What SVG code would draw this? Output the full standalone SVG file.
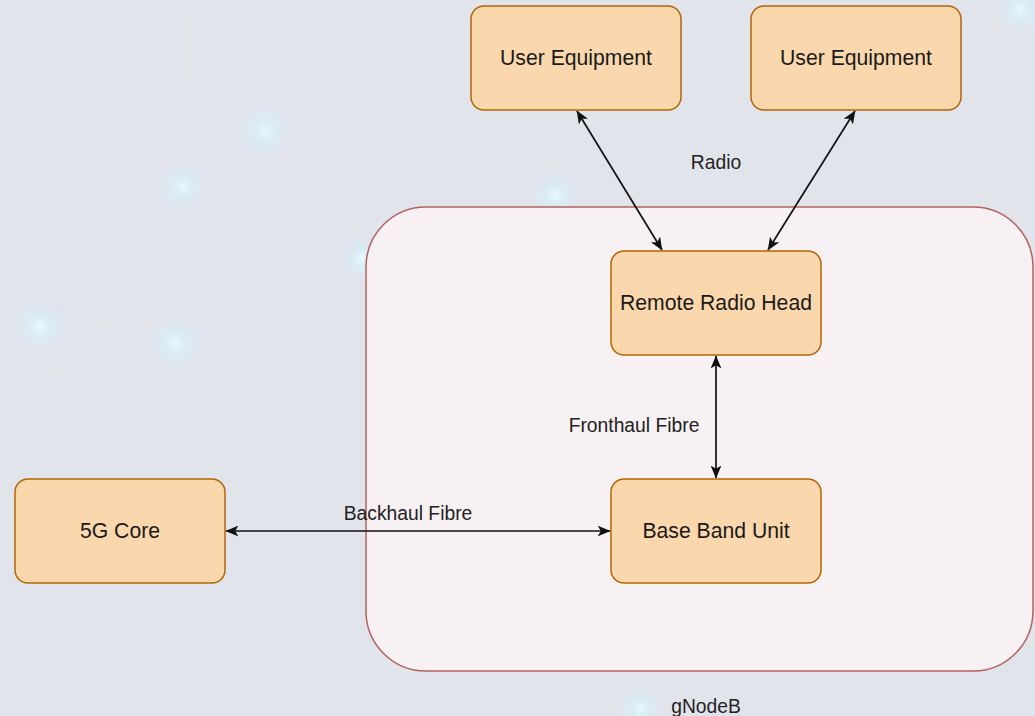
<svg xmlns="http://www.w3.org/2000/svg" width="1035" height="716" viewBox="0 0 1035 716">
<style>
.node rect{fill:#fad7ac;stroke:#b46504;stroke-width:1.5}
.node text{font-family:"Liberation Sans",Arial,sans-serif;font-size:21.2px;fill:#1a1a1a;text-anchor:middle}
.lbl{font-family:"Liberation Sans",Arial,sans-serif;font-size:19.3px;fill:#222;text-anchor:middle}
.edge{stroke:#111;stroke-width:1.7;fill:none;marker-start:url(#arr);marker-end:url(#arr)}
</style>
<defs>
<marker id="arr" viewBox="0 0 12 10" refX="11.5" refY="5" markerWidth="13" markerHeight="11" markerUnits="userSpaceOnUse" orient="auto-start-reverse">
<path d="M0,0 L12,5 L0,10 L3,5 Z" fill="#111"/>
</marker>
<radialGradient id="glow">
<stop offset="0" stop-color="#e6fcff" stop-opacity="0.95"/>
<stop offset="0.35" stop-color="#d4f2fb" stop-opacity="0.55"/>
<stop offset="1" stop-color="#d8e8f6" stop-opacity="0"/>
</radialGradient>
</defs>
<rect width="1035" height="716" fill="#e2e4ec"/>
<g id="background" stroke="#d9e7f4" stroke-width="1.5" fill="none" opacity="0.8">
<path d="M176,0 L183,187 L40,325"/>
<path d="M183,187 L265,130"/>
<path d="M175,343 L40,325"/>
<path d="M175,343 L360,258"/>
<path d="M175,343 L140,460"/>
<path d="M0,400 L175,343"/>
</g>
<g id="glows">
<circle cx="265" cy="131" r="30" fill="url(#glow)"/>
<circle cx="183" cy="187" r="28" fill="url(#glow)"/>
<circle cx="40" cy="326" r="30" fill="url(#glow)"/>
<circle cx="175" cy="343" r="30" fill="url(#glow)"/>
<circle cx="362" cy="258" r="26" fill="url(#glow)"/>
<circle cx="555" cy="195" r="28" fill="url(#glow)"/>
<circle cx="640" cy="708" r="26" fill="url(#glow)"/>
<circle cx="1020" cy="10" r="26" fill="url(#glow)"/>
</g>
<g id="gNodeB">
<rect x="366" y="207" width="667" height="464" rx="60" ry="60" fill="#f8f1f4" stroke="#b3625d" stroke-width="1.5"/>
<text class="lbl" x="706" y="713">gNodeB</text>
</g>
<g id="connectors">
<line class="edge" x1="577" y1="111" x2="662" y2="250"/>
<line class="edge" x1="855" y1="111" x2="768" y2="250"/>
<line class="edge" x1="716" y1="356" x2="716" y2="478"/>
<line class="edge" x1="226" y1="531" x2="610" y2="531"/>
<text class="lbl" x="716" y="169">Radio</text>
<text class="lbl" x="634" y="432">Fronthaul Fibre</text>
<text class="lbl" x="408" y="520">Backhaul Fibre</text>
</g>
<g id="ue1" class="node">
<rect x="471" y="6" width="210" height="104" rx="13"/>
<text x="576" y="65">User Equipment</text>
</g>
<g id="ue2" class="node">
<rect x="751" y="6" width="210" height="104" rx="13"/>
<text x="856" y="65">User Equipment</text>
</g>
<g id="rrh" class="node">
<rect x="611" y="251" width="210" height="104" rx="13"/>
<text x="716" y="310">Remote Radio Head</text>
</g>
<g id="bbu" class="node">
<rect x="611" y="479" width="210" height="104" rx="13"/>
<text x="716" y="538">Base Band Unit</text>
</g>
<g id="core" class="node">
<rect x="15" y="479" width="210" height="104" rx="13"/>
<text x="120" y="538">5G Core</text>
</g>
</svg>
